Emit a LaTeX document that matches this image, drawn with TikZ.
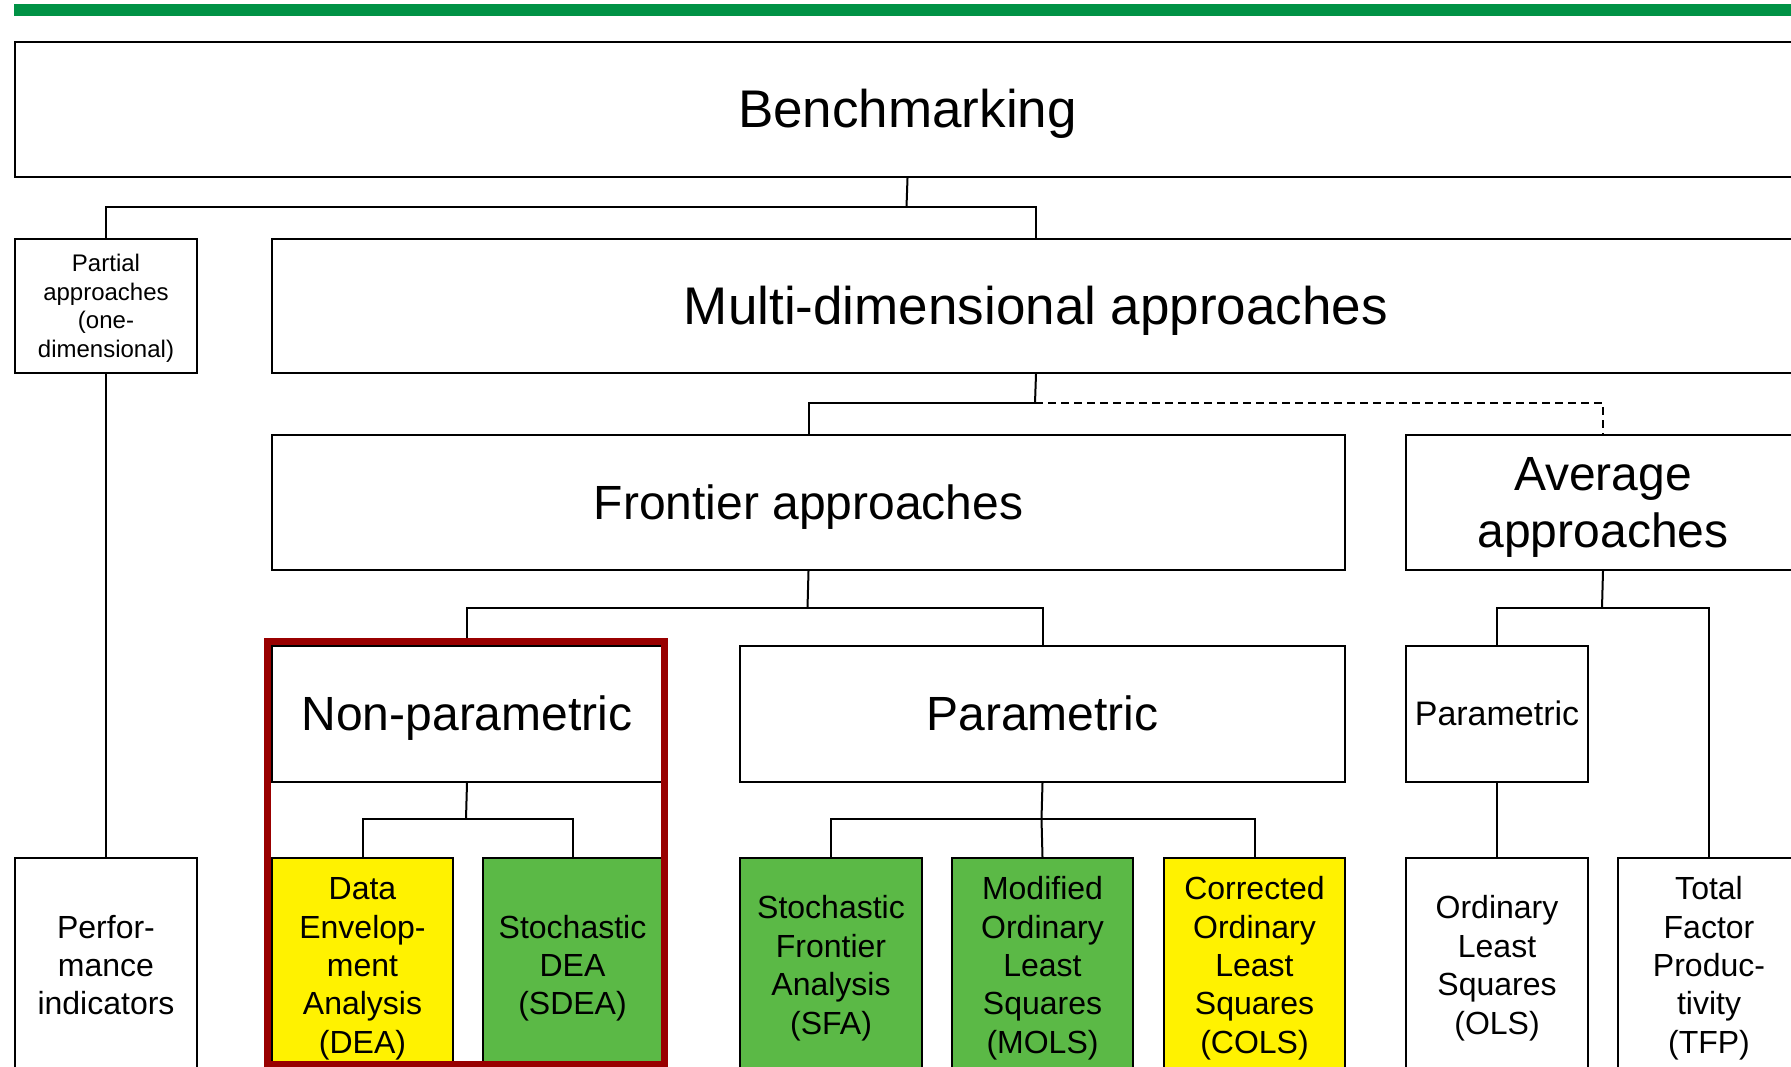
\documentclass[tikz,border=0pt]{standalone}
\usepackage{fontspec}
\setmainfont{Liberation Sans}
\definecolor{barGreen}{RGB}{0,146,69}
\definecolor{fillGreen}{RGB}{91,185,70}
\definecolor{fillYellow}{RGB}{255,242,0}
\definecolor{frameRed}{RGB}{153,0,0}
% struts giving every text block the full ascent of its first line
% and the full descent of its last line
\newcommand\hiStrut{\rule{0pt}{0.905em}}
\newcommand\loStrut{\rule[-0.212em]{0pt}{0.212em}}
\begin{document}
\begin{tikzpicture}[x=1pt,y=-1pt,
  box/.style={draw, line width=2pt, anchor=north west, inner sep=0pt,
    align=center, minimum height=#1},
  box/.default=135,
  huge/.style={font=\fontsize{53}{60}\selectfont},
  big/.style={font=\fontsize{48}{57}\selectfont},
  mid/.style={font=\fontsize{34}{40}\selectfont},
  leaf/.style={box=215, minimum width=182, font=\fontsize{32}{38.4}\selectfont},
  small/.style={font=\fontsize{24}{28.6}\selectfont},
  link/.style={draw, line width=2pt},
  weaklink/.style={draw, line width=2pt, dash pattern=on 8pt off 5pt}]

\useasboundingbox (0,0) rectangle (1791,1067);
\clip (0,0) rectangle (1791,1067);

% header bar
\fill[barGreen] (14,4) rectangle (1791,16);

% level 0
\node[box, huge, minimum width=1785] (bench) at (14,41) {\hiStrut Benchmarking\loStrut};

% level 1
\node[box=134, small, minimum width=182] (partial) at (14,238)
  {\hiStrut Partial\\approaches\\(one-\\dimensional)\loStrut};
\node[box=134, huge, minimum width=1528] (multi) at (271,238)
  {\hiStrut Multi-dimensional approaches\loStrut};

% level 2
\node[box, big, minimum width=1073] (frontier) at (271,434)
  {\hiStrut Frontier approaches\loStrut};
\node[box, big, minimum width=394] (average) at (1405,434)
  {\hiStrut Average\\approaches\loStrut};

% level 3
\node[box=136, big, minimum width=390] (nonpar) at (271,645)
  {\hiStrut Non-parametric\loStrut};
\node[box=136, big, minimum width=605] (par) at (739,645)
  {\hiStrut Parametric\loStrut};
\node[box=136, mid, minimum width=182] (avpar) at (1405,645)
  {\hiStrut Parametric\loStrut};

% leaves
\node[leaf] (perf) at (14,857) {\hiStrut Perfor-\\mance\\indicators\loStrut};
\node[leaf, fill=fillYellow, minimum width=181] (dea) at (271,857)
  {\hiStrut Data\\Envelop-\\ment\\Analysis\\(DEA)\loStrut};
\node[leaf, fill=fillGreen, minimum width=179] (sdea) at (482,857)
  {\hiStrut Stochastic\\DEA\\(SDEA)\loStrut};
\node[leaf, fill=fillGreen] (sfa) at (739,857)
  {\hiStrut Stochastic\\Frontier\\Analysis\\(SFA)\loStrut};
\node[leaf, fill=fillGreen, minimum width=181] (mols) at (951,857)
  {\hiStrut Modified\\Ordinary\\Least\\Squares\\(MOLS)\loStrut};
\node[leaf, fill=fillYellow, minimum width=181] (cols) at (1163,857)
  {\hiStrut Corrected\\Ordinary\\Least\\Squares\\(COLS)\loStrut};
\node[leaf] (ols) at (1405,857) {\hiStrut Ordinary\\Least\\Squares\\(OLS)\loStrut};
\node[leaf] (tfp) at (1617,857)
  {\hiStrut Total\\Factor\\Produc-\\tivity\\(TFP)\loStrut};

% junction points
\coordinate (j1) at (906.5,207);
\coordinate (j2) at (1035,403);
\coordinate (j3) at (807.5,608);
\coordinate (j4) at (1602,608);
\coordinate (j5) at (466,819);
\coordinate (j6) at (1041.5,819);

% connectors
\path[link] (bench.south) -- (j1);
\path[link] (partial.north) |- (j1) -| (multi.north);
\path[link] (partial.south) -- (perf.north);

\path[link] (multi.south) -- (j2);
\path[link] (j2) -| (frontier.north);
\path[weaklink] (j2) -| (average.north);

\path[link] (frontier.south) -- (j3);
\path[link] (nonpar.north) |- (j3) -| (par.north);

\path[link] (average.south) -- (j4);
\path[link] (avpar.north) |- (j4) -| (tfp.north);
\path[link] (avpar.south) -- (ols.north);

\path[link] (nonpar.south) -- (j5);
\path[link] (dea.north) |- (j5) -| (sdea.north);

\path[link] (par.south) -- (j6);
\path[link] (sfa.north) |- (j6) -| (cols.north);
\path[link] (j6) -- (mols.north);

% highlight frame around the non-parametric branch
\draw[frameRed, line width=7pt] (267.5,641.5) rectangle (664.5,1064.5);

\end{tikzpicture}
\end{document}
